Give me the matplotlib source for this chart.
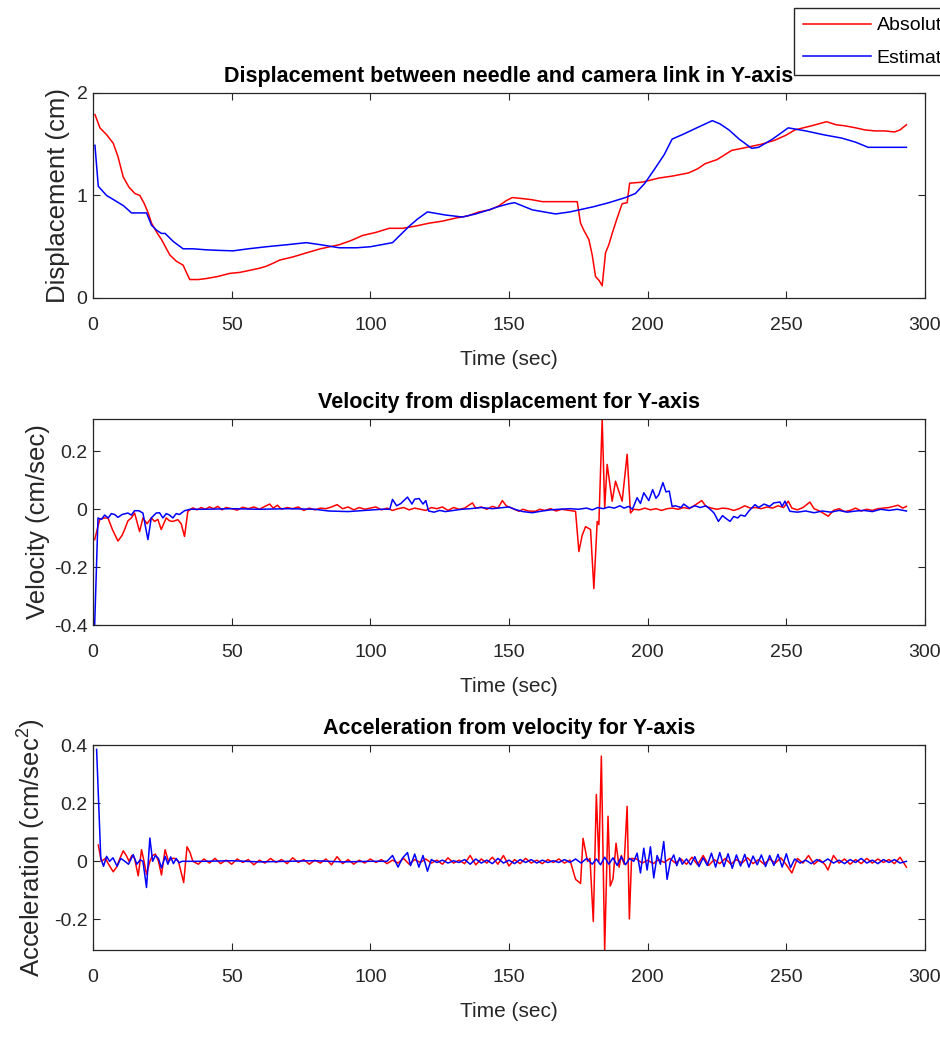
import matplotlib
matplotlib.use('Agg')
import matplotlib.pyplot as plt

plt.rcParams['font.family'] = ['Liberation Sans', 'DejaVu Sans']
plt.rcParams['axes.unicode_minus'] = False
plt.rcParams['mathtext.fontset'] = 'custom'
plt.rcParams['mathtext.rm'] = 'Liberation Sans'
plt.rcParams['mathtext.it'] = 'Liberation Sans:italic'

# displacement (cm), absolute = red, estimated = blue
t_dr = [0.7, 2.5, 5, 7.3, 9, 10.9, 13, 15.1, 16.9, 18.5, 19.9, 21.1, 23, 24.7, 26.5, 27.7, 30, 32.5, 33.5, 34.9,
        38, 40.9, 45, 49.3, 53, 56.5, 60, 62.5, 65, 67.3, 72, 76.9, 82, 88.8, 93, 97.2, 102, 106.8, 111.6, 116,
        121.2, 126, 130.8, 135, 139.2, 143, 146.4, 149, 151.2, 154.8, 158, 162, 168, 174.6, 175.8, 177, 178.8,
        180, 181.2, 182.5, 183.6, 184.8, 186, 187.2, 189, 190.8, 192.6, 193.5, 198, 204, 209, 214.7, 218, 220.7,
        225, 230.3, 234, 237.5, 241, 245.9, 250, 253.1, 259.1, 264.5, 268, 271.1, 275, 278.3, 282, 285.5, 289,
        291, 293.3]
d_abs = [1.79, 1.66, 1.59, 1.51, 1.38, 1.18, 1.08, 1.02, 1.0, 0.92, 0.83, 0.73, 0.64, 0.57, 0.48, 0.42, 0.36,
         0.32, 0.26, 0.18, 0.18, 0.19, 0.21, 0.24, 0.25, 0.27, 0.29, 0.31, 0.34, 0.37, 0.40, 0.44, 0.48, 0.52,
         0.56, 0.61, 0.64, 0.68, 0.68, 0.70, 0.73, 0.75, 0.78, 0.80, 0.84, 0.86, 0.90, 0.95, 0.98, 0.97, 0.96,
         0.94, 0.94, 0.94, 0.73, 0.66, 0.57, 0.42, 0.21, 0.17, 0.12, 0.44, 0.52, 0.63, 0.78, 0.92, 0.93, 1.12,
         1.13, 1.17, 1.19, 1.22, 1.26, 1.31, 1.35, 1.44, 1.46, 1.48, 1.50, 1.54, 1.59, 1.64, 1.68, 1.72, 1.69,
         1.68, 1.66, 1.64, 1.63, 1.63, 1.62, 1.64, 1.69]

t_db = [0.7, 1.9, 4.9, 8, 11, 13.9, 19.3, 21.1, 23, 24.7, 26, 29, 32.5, 36, 40.9, 45, 50.5, 56, 62.5, 70, 76.9,
        82, 88.8, 95, 100, 108, 111, 114, 117, 120.6, 127, 133.2, 138, 142.8, 146, 150, 152, 158.4, 166.8, 172,
        180.4, 186, 192, 195.6, 199, 202.8, 206, 208.8, 213, 218.5, 223.3, 226, 229.3, 233, 237.5, 240, 245,
        250.7, 257, 263.9, 270, 275, 279.5, 286, 293.3]
d_est = [1.49, 1.09, 1.0, 0.95, 0.90, 0.83, 0.83, 0.71, 0.66, 0.63, 0.63, 0.55, 0.48, 0.48, 0.47, 0.465, 0.46,
         0.48, 0.50, 0.52, 0.54, 0.52, 0.49, 0.49, 0.50, 0.54, 0.62, 0.70, 0.77, 0.84, 0.81, 0.79, 0.82, 0.86,
         0.89, 0.92, 0.93, 0.86, 0.82, 0.84, 0.89, 0.93, 0.98, 1.02, 1.12, 1.27, 1.40, 1.55, 1.60, 1.67, 1.73,
         1.70, 1.64, 1.55, 1.46, 1.47, 1.55, 1.66, 1.63, 1.59, 1.56, 1.52, 1.47, 1.47, 1.47]

# velocity (cm/sec)
t_vr = [0.6, 2.4, 4, 5.4, 7, 9, 10.5, 11.4, 12.6, 13.8, 15, 16.8, 18, 19.5, 21, 22.2, 23.4, 24.6, 26.4, 27.6,
        28.8, 30.6, 31.8, 33, 34.2, 36, 37.5, 39, 40.5, 42, 43.5, 45, 46.5, 48, 50, 52, 54, 56, 58, 60, 62, 63.7,
        65, 66.5, 68, 70, 72, 74, 76, 78, 80, 82, 84, 86, 88, 90, 92, 94, 96, 98, 100, 102, 104, 106, 108, 110,
        112, 114, 116, 118, 120, 122, 124, 126, 128, 130, 132, 134, 136.8, 138, 140, 142, 144, 146, 147.6, 149,
        151, 153.6, 155, 157, 159.6, 161, 163, 165, 167, 169, 171, 174, 175.2, 176.4, 177.6, 179.4, 180.6,
        181.8, 182.4, 183.6, 184.5, 185.4, 187.2, 188.4, 190.8, 192.6, 193.8, 195, 197, 199, 201, 203, 205,
        207, 209, 211, 213, 215, 217, 219.5, 221, 223, 225, 227, 229, 231, 233, 235, 237, 239, 241, 243, 245,
        247, 249, 250.7, 252, 254, 256, 258.5, 260, 262, 265.1, 267, 269, 271, 273, 275, 277, 279, 281, 283,
        285, 287, 290.3, 292, 293.3]
v_abs = [-0.105, -0.036, -0.03, -0.03, -0.07, -0.11, -0.09, -0.07, -0.04, -0.03, -0.013, -0.077, -0.03, -0.05,
         -0.03, -0.042, -0.035, -0.07, -0.03, -0.04, -0.042, -0.036, -0.05, -0.094, -0.007, 0.005, -0.002,
         0.006, 0.0, 0.008, 0.002, 0.01, -0.002, 0.006, 0.002, -0.003, 0.007, 0.002, 0.008, 0.0, 0.01, 0.018,
         0.004, 0.014, 0.0, 0.006, 0.002, 0.008, -0.004, 0.004, -0.002, 0.004, 0.002, 0.008, 0.016, 0.002,
         0.008, -0.002, 0.006, 0.0, 0.004, 0.008, -0.002, 0.004, -0.004, 0.002, 0.006, -0.002, 0.004, 0.0,
         -0.004, 0.006, 0.002, 0.008, -0.004, 0.006, 0.0, 0.004, 0.022, 0.004, 0.008, 0.0, 0.01, 0.004, 0.03,
         0.012, 0.004, -0.007, 0.0, -0.006, -0.007, 0.0, -0.004, 0.002, -0.006, 0.0, -0.003, -0.007, -0.146,
         -0.09, -0.06, -0.07, -0.274, -0.042, -0.053, 0.312, 0.005, 0.155, 0.028, 0.097, 0.028, 0.19, -0.013,
         0.0, -0.002, 0.004, -0.002, 0.002, -0.004, 0.002, 0.004, 0.0, 0.006, 0.002, 0.014, 0.03, 0.01, 0.004,
         0.0, 0.004, 0.002, -0.004, 0.002, 0.012, 0.004, 0.006, 0.002, 0.008, 0.004, 0.012, 0.006, 0.028,
         0.004, -0.002, 0.006, 0.025, 0.002, -0.006, -0.024, -0.004, 0.002, -0.008, -0.004, 0.004, -0.006, 0.0,
         -0.004, 0.002, 0.004, 0.006, 0.014, 0.004, 0.01]

t_vb = [0.6, 1.8, 3, 4.2, 5.5, 6.6, 7.8, 9, 10.5, 12.6, 13.8, 15, 16.5, 18, 19.8, 21, 22.8, 24, 25.2, 26.4,
        27.6, 28.8, 30, 31.2, 33, 35, 40, 50, 60, 70, 80, 85, 92, 98, 104, 107, 108, 109.5, 111, 113.4, 115,
        116, 117.6, 119, 120, 121, 123, 125, 127, 130, 133, 136, 140, 144, 148, 150, 152, 155, 158.4, 162, 165,
        168, 172, 175, 178, 180, 182, 184, 186, 188, 190, 191.5, 193.2, 194.5, 196.2, 197.4, 198.6, 200.4,
        201.8, 203, 204, 205.5, 206.6, 207.8, 208.8, 210, 212, 213, 215, 217, 219, 221, 223, 224, 225.5, 227,
        228, 229.7, 231, 232.5, 233.5, 235.1, 236.5, 238.7, 240, 242, 244, 245.5, 247.7, 248.5, 249.5, 251.3,
        254, 257, 260, 263, 266, 269, 272, 275, 278, 281, 284, 287, 290, 293.3]
v_est = [-0.40, -0.03, -0.035, -0.02, -0.03, -0.015, -0.018, -0.028, -0.018, -0.013, -0.02, -0.005, -0.005,
         -0.013, -0.105, -0.03, -0.013, -0.012, -0.03, -0.015, -0.02, -0.03, -0.015, -0.018, -0.005, 0.0, 0.0,
         0.002, 0.0, 0.002, 0.0, -0.006, -0.008, -0.004, 0.0, 0.0, 0.034, 0.012, 0.02, 0.042, 0.018, 0.035,
         0.037, 0.018, 0.03, -0.006, -0.01, -0.004, -0.008, -0.004, 0.0, 0.002, 0.006, 0.002, 0.006, 0.008,
         0.0, -0.008, -0.012, -0.006, -0.002, 0.0, 0.002, 0.0, 0.004, -0.002, 0.006, 0.002, 0.008, 0.004,
         0.012, 0.004, 0.01, 0.0, 0.04, 0.02, 0.057, 0.03, 0.068, 0.038, 0.05, 0.092, 0.06, 0.063, 0.01, 0.012,
         0.006, 0.018, 0.004, 0.012, 0.006, 0.012, -0.004, -0.014, -0.042, -0.022, -0.03, -0.042, -0.025,
         -0.03, -0.02, -0.024, -0.006, 0.016, 0.006, 0.018, 0.01, 0.022, 0.025, 0.01, 0.028, -0.007, -0.01,
         -0.006, -0.012, -0.006, -0.01, -0.004, -0.01, -0.006, -0.004, -0.008, 0.0, -0.004, 0.0, -0.006]

# acceleration (cm/sec^2)
t_ar = [1.9, 3, 4.5, 5.6, 7.3, 8.5, 9.7, 10.9, 12, 13, 14, 15, 16.3, 17.5, 18.4, 19.3, 20.5, 21.5, 22.5, 23.6,
        24.7, 26, 27.2, 28.4, 29.5, 30.8, 32.7, 33.9, 35,
        36, 38, 40, 42, 44, 46, 48, 50, 52, 54, 56, 58, 60, 62, 64, 66, 68, 70, 72, 74, 76, 78, 80, 82, 84, 86,
        88, 90, 92, 94, 96, 98, 100, 102, 104, 106, 108, 110, 112, 114, 116, 118, 120, 122, 124, 126, 128, 130,
        132, 134, 136, 138, 140, 142, 144, 146, 148, 150, 152, 154, 156, 158, 160, 162, 164, 166, 168, 170, 172,
        174, 175.8, 176.7, 178.3, 179.2, 180.4, 181.5, 182.4, 183.3, 184.5, 185.7, 186.5, 187.5, 188.6, 189.7,
        190.5, 191.5, 192.6, 193.4, 194.2, 196, 198, 200, 202, 204, 206, 208, 210, 212, 214, 216, 218, 220,
        222, 224, 226, 228, 230, 232, 234, 236, 238, 240, 242, 244, 246, 248, 250, 252, 254, 256, 258, 260,
        262, 264, 265, 267, 269, 271, 273, 275, 277, 279, 281, 283, 285, 287, 289, 291, 293.3]
a_abs = [0.056, 0.0, 0.01, -0.01, -0.036, -0.02, 0.01, 0.036, 0.02, 0.0, 0.02, 0.01, -0.05, 0.04, 0.0, -0.045,
         0.0, 0.02, 0.025, 0.0, -0.047, 0.04, 0.0, 0.01, 0.01, 0.0, -0.073, 0.05, 0.03,
         0.0, -0.01, 0.008, -0.006, 0.01, -0.008, 0.004, -0.01, 0.008, -0.004, 0.006, -0.012, 0.004, -0.006,
         0.01, -0.004, 0.006, -0.008, 0.012, -0.004, 0.006, -0.01, 0.004, -0.006, 0.008, -0.012, 0.016, -0.008,
         0.006, -0.01, 0.004, -0.006, 0.008, -0.004, 0.006, -0.008, 0.004, -0.006, 0.01, -0.01, 0.006, -0.004,
         0.008, -0.006, 0.004, -0.01, 0.012, -0.006, 0.004, -0.008, 0.02, -0.012, 0.008, -0.006, 0.014, -0.01,
         0.02, -0.016, 0.006, -0.008, 0.01, -0.006, 0.004, -0.008, 0.006, -0.004, 0.008, -0.006, 0.004,
         -0.062, -0.076, 0.079, 0.0, 0.01, -0.207, 0.23, 0.0, 0.362, -0.305, 0.155, -0.085, -0.06, 0.062,
         -0.02, 0.02, -0.01, 0.189, -0.198, 0.01, 0.008, -0.006, 0.004, -0.008, 0.006, -0.004, 0.01, -0.006,
         0.008, -0.01, 0.014, -0.012, 0.02, -0.014, 0.006, -0.008, 0.01, -0.01, 0.006, -0.006, 0.012, -0.008,
         0.006, -0.01, 0.008, -0.006, 0.012, -0.012, -0.04, 0.01, -0.006, 0.02, -0.01, 0.006, -0.012, -0.03,
         0.02, -0.006, 0.008, -0.01, 0.006, -0.008, 0.01, -0.006, 0.008, -0.004, 0.006, -0.008, 0.014, -0.02]

t_ab = [1.3, 2.8, 3.8, 4.9, 6, 7.2, 8.7, 10, 11.5, 12.8, 14.5, 15.8, 17, 18, 19.3, 20.5, 21.5, 22.5, 23.6, 24.7,
        26, 27, 28, 29, 30, 31, 32.1, 40, 50, 60, 70, 80, 90, 100, 106, 108, 110, 111.5, 113.4, 114.5, 116,
        117.5, 119, 120.6, 122, 124, 126, 128, 130, 132, 134, 136, 138, 140, 142, 144, 146, 148, 150, 152, 154,
        156, 158, 160, 162, 164, 166, 168, 170, 172, 174, 176, 178, 180, 181.5, 183, 184.5, 186, 187.5, 189,
        190.5, 192, 193.5, 195, 196.2, 197.4, 198.6, 199.8, 201, 202.2, 203.4, 204.6, 205.8, 207, 208.2, 209.4,
        210.5, 211.5, 212.5, 214, 215.5, 217, 218.5, 220, 221.5, 223, 224.5, 226, 227.5, 229, 230.5, 232,
        233.5, 235, 236.5, 238, 239.5, 241, 242.5, 244, 245.5, 247, 248.5, 250, 251.5, 253, 255, 257, 259, 261,
        263, 265, 267, 269, 271, 273, 275, 277, 279, 281, 283, 285, 287, 289, 291, 293.3]
a_est = [0.385, 0.011, -0.017, 0.017, 0.0, 0.012, -0.017, 0.01, 0.0, -0.01, 0.023, -0.01, 0.005, 0.0, -0.09,
         0.08, 0.0, 0.02, 0.01, -0.023, 0.017, -0.01, 0.015, -0.008, 0.01, -0.005, 0.0, 0.0, 0.002, -0.002, 0.0,
         0.002, -0.002, 0.0, 0.0, 0.02, -0.02, 0.01, 0.03, -0.015, 0.025, -0.02, 0.02, -0.034, 0.006, -0.004,
         0.004, -0.006, 0.002, -0.004, 0.006, -0.01, 0.008, -0.006, 0.004, -0.008, 0.01, -0.006, 0.004, -0.008,
         0.006, -0.004, 0.006, -0.006, 0.004, -0.004, 0.002, -0.004, 0.006, -0.004, 0.008, -0.006, 0.01, -0.01,
         0.008, -0.012, 0.014, -0.01, 0.012, -0.014, 0.016, -0.012, 0.01, 0.0, 0.028, -0.04, 0.045, -0.03, 0.05,
         -0.057, 0.02, -0.01, 0.068, -0.062, 0.0, 0.022, -0.015, 0.012, -0.01, 0.008, -0.012, 0.016, -0.018,
         0.012, -0.014, 0.028, -0.02, 0.03, -0.018, 0.026, -0.024, 0.022, -0.016, 0.024, -0.02, 0.018, -0.012,
         0.022, -0.018, 0.02, -0.014, 0.024, -0.02, 0.026, -0.022, 0.008, -0.006, 0.004, -0.008, 0.006, -0.004,
         0.008, -0.006, 0.004, -0.008, 0.006, -0.004, 0.01, -0.006, 0.004, -0.008, 0.006, -0.004, 0.006, -0.006,
         0.0]

x_ticks = [0, 50, 100, 150, 200, 250, 300]
dark = '#262626'

fig = plt.figure(figsize=(9.4, 10.42), dpi=100)
ax1 = fig.add_axes([93 / 940, 1 - 298 / 1042, 832 / 940, 205 / 1042])
ax2 = fig.add_axes([93 / 940, 1 - 625 / 1042, 832 / 940, 206 / 1042])
ax3 = fig.add_axes([93 / 940, 1 - 950 / 1042, 832 / 940, 205 / 1042])


def style(ax, yt, ylab, title, lab_x):
    ax.set_xlim(0, 300)
    ax.set_xticks(x_ticks)
    ax.set_yticks(yt)
    ax.set_yticklabels([('%g' % v) for v in yt])
    ax.tick_params(direction='in', top=True, right=True, length=5, width=0.8,
                   labelsize=14, colors=dark)
    ax.tick_params(axis='x', pad=14)
    ax.tick_params(axis='y', pad=4)
    for s in ax.spines.values():
        s.set_color(dark)
        s.set_linewidth(0.9)
    ax.set_xlabel('Time (sec)', fontsize=15, color=dark, labelpad=11)
    ax.set_ylabel(ylab, fontsize=18.5, color=dark)
    ax.yaxis.set_label_coords(lab_x, 0.5)
    ax.set_title(title, fontsize=15.5, fontweight='bold', pad=8)


l1, = ax1.plot(t_dr, d_abs, color='red', lw=1.1)
l2, = ax1.plot(t_db, d_est, color='blue', lw=1.1)
ax1.set_ylim(0, 2)
style(ax1, [0, 1, 2], 'Displacement (cm)',
      'Displacement between needle and camera link in Y-axis', -0.028)

ax2.plot(t_vr, v_abs, color='red', lw=1.1)
ax2.plot(t_vb, v_est, color='blue', lw=1.1)
ax2.set_ylim(min(min(v_abs), min(v_est)), max(max(v_abs), max(v_est)))
style(ax2, [-0.4, -0.2, 0, 0.2], 'Velocity (cm/sec)',
      'Velocity from displacement for Y-axis', -0.052)

ax3.plot(t_ar, a_abs, color='red', lw=1.1)
ax3.plot(t_ab, a_est, color='blue', lw=1.1)
ax3.set_ylim(min(min(a_abs), min(a_est)), max(max(a_abs), max(a_est)))
style(ax3, [-0.2, 0, 0.2, 0.4], r'Acceleration (cm/sec$^{2}$)',
      'Acceleration from velocity for Y-axis', -0.054)

fig.legend([l1, l2], ['Absolute', 'Estimated'], loc='upper left',
           bbox_to_anchor=(794 / 940, 1 - 8 / 1042), fontsize=14, frameon=True,
           fancybox=False, edgecolor=dark, framealpha=1, handlelength=3.5,
           borderpad=0.45, labelspacing=0.75, handletextpad=0.3, borderaxespad=0)

fig.savefig('out.png', dpi=100)
